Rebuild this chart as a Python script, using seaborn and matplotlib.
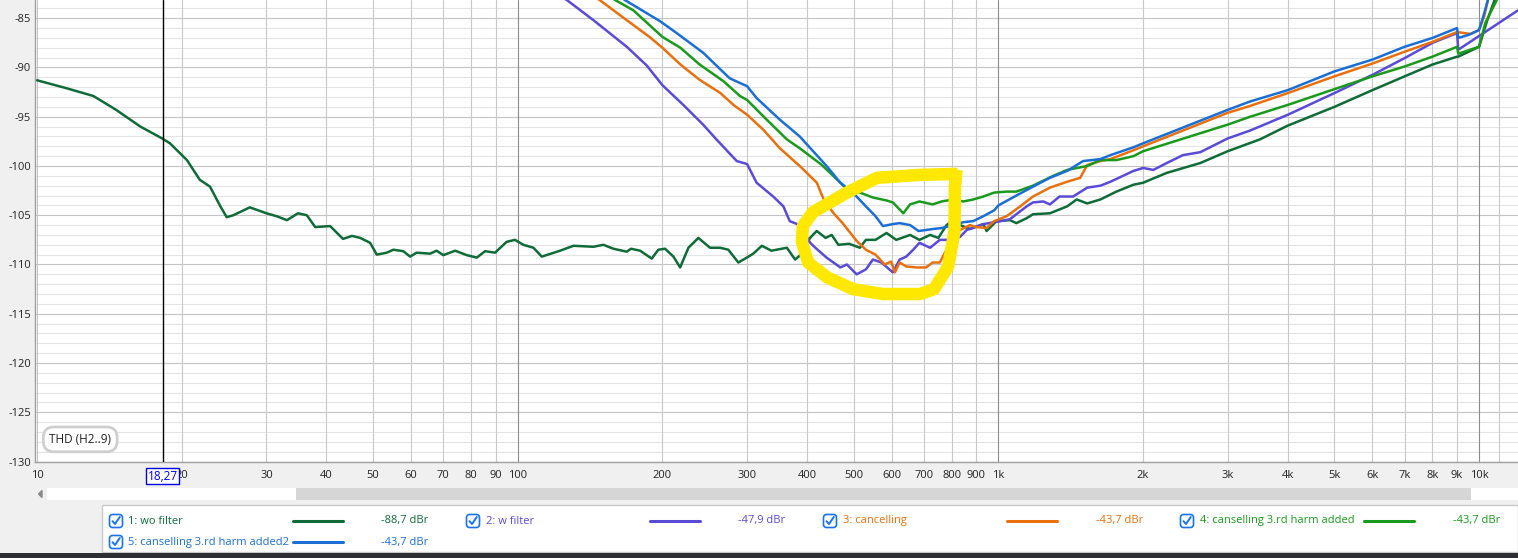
import matplotlib
matplotlib.use("Agg")
import numpy as np
import pandas as pd
import matplotlib.pyplot as plt
from matplotlib.patches import Rectangle, FancyBboxPatch
from matplotlib.ticker import NullLocator
import seaborn as sns

W, H = 1518, 558

# THD traces: (frequency Hz, level dB)
wo_filter = [
    (10, -91.3), (11.5, -92.1), (13.1, -92.9), (14.6, -94.3), (16.4, -96.0), (18.2, -97.2),
    (18.9, -97.7), (20.5, -99.4), (21.8, -101.4), (22.9, -102.1), (24.0, -104.0), (24.8, -105.2),
    (25.6, -105.0), (27.7, -104.2), (30.0, -104.8), (31.5, -105.1), (33.1, -105.5), (34.9, -104.8),
    (36.4, -105.0), (37.9, -106.2), (40.7, -106.1), (43.3, -107.4), (45.2, -107.1), (47.0, -107.3),
    (49.3, -107.8), (50.9, -109.0), (53.4, -108.8), (55.1, -108.5), (57.8, -108.65), (59.7, -109.2),
    (61.6, -108.8), (65.7, -108.9), (67.8, -108.6), (70.0, -109.05), (74.1, -108.6), (78.3, -109.05),
    (82.2, -109.3), (85.5, -108.65), (89.7, -108.8), (94.8, -107.7), (98.7, -107.5), (102.7, -108.0),
    (107.8, -108.3), (112.2, -109.2), (122.5, -108.6), (130.6, -108.1), (143.7, -108.2), (150.7, -108.0),
    (158.1, -108.4), (168.6, -108.7), (172, -108.4), (179.7, -108.6), (190.0, -109.4), (196.1, -108.5),
    (202.5, -108.4), (210.8, -109.2), (217.7, -110.3), (226.5, -108.3), (237.5, -107.3), (251.2, -108.3),
    (263.6, -108.3), (274.2, -108.5), (287.7, -109.8), (299.6, -109.3), (309, -108.9), (322, -108.1),
    (337, -108.6), (363, -108.3), (377.6, -109.5), (386, -109.1), (405.6, -107.3), (418.8, -106.6),
    (437, -107.3), (450, -107.0), (464.5, -108.0), (489, -107.9), (515, -108.3), (530, -107.5),
    (555, -107.5), (585, -106.8), (613, -107.5), (655, -107.0), (685, -107.5), (721, -107.0),
    (750, -107.3), (780, -106.0), (806, -105.5), (832, -106.0), (873, -106.4), (930, -105.9),
    (945, -106.6), (991, -105.6), (1057, -105.5), (1090, -105.8), (1145, -105.3), (1180, -104.9),
    (1280, -104.8), (1390, -104.1), (1455, -103.4), (1530, -103.8), (1630, -103.4), (1760, -102.6),
    (1910, -101.9), (2000, -101.7), (2240, -100.7), (2630, -99.7), (3000, -98.5), (3500, -97.3),
    (4000, -95.9), (5000, -94.0), (6000, -92.3), (7000, -90.9), (8000, -89.7), (9000, -88.9),
    (9050, -88.9), (10000, -87.9), (10400, -85.2), (10800, -83.0), (11000, -82.0),
]

w_filter = [
    (120, -82.5), (126.5, -83.15), (143.7, -85.2), (168.6, -87.9), (185.5, -89.8), (200, -91.8),
    (221, -93.8), (243, -95.8), (259, -97.3), (285.5, -99.5), (300, -99.8), (314, -101.7),
    (340, -103.1), (357, -104.1), (368, -105.6), (386, -106.0), (406, -107.8), (416, -108.3),
    (439, -109.3), (469, -110.3), (484, -110.0), (507, -111.0), (530, -110.5), (548, -109.5),
    (571, -109.8), (603, -110.8), (623, -109.5), (643, -109.2), (665, -108.5), (685, -107.8),
    (721, -108.3), (755, -107.5), (792, -107.5), (832, -107.2), (859, -106.5), (930, -105.9),
    (1010, -105.6), (1057, -105.4), (1110, -104.6), (1145, -104.1), (1180, -103.7), (1240, -103.6),
    (1280, -103.9), (1340, -103.1), (1390, -103.1), (1430, -103.1), (1530, -102.2), (1630, -102.0),
    (1710, -101.6), (1910, -100.5), (2000, -100.2), (2100, -100.4), (2240, -99.7), (2420, -98.9),
    (2630, -98.6), (3000, -97.2), (3340, -96.4), (4000, -94.8), (5000, -92.6), (6000, -90.75),
    (7000, -89.05), (8000, -87.5), (9000, -86.5), (9050, -88.2), (12050, -84.2),
]

cancelling = [
    (140, -82.5), (148, -83.15), (168.6, -85.2), (188, -86.9), (200, -88.0), (218, -89.7),
    (239, -91.25), (264, -92.6), (281, -93.8), (300, -94.8), (324, -96.3), (351, -98.2),
    (386, -100.0), (419, -101.7), (433, -103.4), (454, -104.8), (474, -105.8), (507, -107.6),
    (530, -108.5), (555, -109.0), (580, -110.0), (598, -109.7), (609, -110.8), (623, -109.8),
    (643, -110.2), (676, -110.3), (707, -110.3), (730, -109.8), (755, -109.8), (780, -108.5),
    (806, -107.2), (832, -106.5), (873, -106.0), (900, -106.2), (945, -106.3), (980, -105.6),
    (1040, -105.1), (1110, -104.1), (1180, -103.1), (1280, -102.2), (1390, -101.6), (1480, -101.2),
    (1530, -99.9), (1630, -99.5), (1710, -99.3), (1910, -98.4), (2000, -98.0), (3000, -94.6),
    (3340, -93.9), (4000, -92.6), (5000, -90.9), (6000, -89.6), (7000, -88.4), (8000, -87.4),
    (9000, -86.4), (9600, -86.6), (10000, -86.2), (10250, -84.8), (10450, -83.0), (10600, -82.0),
]

cancel_3rd = [
    (152, -82.5), (159.4, -83.15), (174, -84.2), (200, -86.9), (218, -88.0), (239, -89.7),
    (268, -91.4), (290, -92.9), (300, -93.3), (329.6, -95.3), (363, -97.3), (386, -98.2),
    (428, -99.85), (469, -101.7), (489, -102.6), (515, -102.7), (548, -103.2), (585, -103.5),
    (603, -103.7), (634, -104.8), (655, -103.9), (685, -103.6), (730, -103.9), (762, -103.6),
    (806, -103.4), (846, -103.6), (886, -103.4), (930, -103.1), (980, -102.7), (1040, -102.6),
    (1090, -102.6), (1180, -102.0), (1300, -101.0), (1390, -100.4), (1530, -100.0), (1630, -99.4),
    (1760, -99.4), (1910, -99.0), (2000, -98.5), (3000, -95.8), (3340, -95.0), (4000, -93.8),
    (5000, -92.2), (6000, -90.9), (7000, -89.9), (8000, -88.9), (9000, -87.9), (9050, -88.6),
    (10000, -87.9), (10300, -85.5), (10900, -83.1), (11100, -82.0),
]

cancel_3rd_2 = [
    (160, -82.5), (167, -83.15), (197.7, -85.3), (214, -86.5), (243, -88.5), (276, -91.1),
    (300, -91.9), (314, -93.1), (351, -95.3), (386, -97.0), (409, -98.35), (439, -100.0),
    (469, -101.7), (498, -102.7), (530, -104.1), (555, -105.1), (575, -106.1), (603, -105.9),
    (623, -105.8), (655, -106.0), (682, -106.6), (707, -106.5), (730, -106.4), (762, -106.3),
    (806, -106.0), (846, -105.7), (886, -105.6), (930, -105.1), (980, -104.5), (1000, -104.0),
    (1090, -103.0), (1180, -102.1), (1280, -101.2), (1390, -100.5), (1500, -99.5), (1630, -99.3),
    (1710, -98.9), (1910, -98.1), (2000, -97.7), (3000, -94.3), (3340, -93.45), (4000, -92.3),
    (5000, -90.4), (6000, -89.2), (7000, -87.9), (8000, -87.0), (9000, -86.0), (9050, -87.0),
    (9500, -86.7), (10000, -86.2), (10250, -84.5), (10450, -83.0), (10600, -82.0),
]

series_names = ["1: wo filter", "2: w filter", "3: cancelling",
                "4: canselling 3.rd harm added", "5: canselling 3.rd harm added2"]
series_levels = ["-88,7 dBr", "-47,9 dBr", "-43,7 dBr", "-43,7 dBr", "-43,7 dBr"]
series_colors = ["#0f6b37", "#5a4bd6", "#e8700e", "#1a9a1c", "#1b6fd4"]
series_data = [wo_filter, w_filter, cancelling, cancel_3rd, cancel_3rd_2]

y_ticks = list(range(-85, -131, -5))
x_ticks = [10, 20, 30, 40, 50, 60, 70, 80, 90, 100, 200, 300, 400, 500, 600, 700, 800, 900,
           1000, 2000, 3000, 4000, 5000, 6000, 7000, 8000, 9000, 10000]
x_labels = ["10", "20", "30", "40", "50", "60", "70", "80", "90", "100", "200", "300", "400",
            "500", "600", "700", "800", "900", "1k", "2k", "3k", "4k", "5k", "6k", "7k", "8k",
            "9k", "10k"]
cursor_freq = 18.27
cursor_label = "18,27"
trace_label = "THD (H2..9)"

# hand-drawn yellow marker around the notch (freq, dB)
highlight = [(823, -100.8), (687, -100.9), (559, -101.2), (484, -102.7), (411, -104.7),
             (392, -106.1), (390, -107.7), (402, -109.8), (440, -111.3), (498, -112.5),
             (575, -113.0), (687, -113.0), (735, -112.5), (786, -110.2), (810, -106.7),
             (812, -102.1), (818, -100.4)]

rows = []
for name, pts in zip(series_names, series_data):
    for f, db in pts:
        rows.append((name, f, db))
df = pd.DataFrame(rows, columns=["series", "freq", "db"])

sns.set_style("white")
plt.rcParams["font.family"] = ["Open Sans", "DejaVu Sans"]

fig = plt.figure(figsize=(W / 100, H / 100), dpi=100, facecolor="#f0f0f0")
ax = fig.add_axes([35 / W, (H - 462) / H, (W - 35) / W, 462 / H])
ax.set_facecolor("white")

ax.set_xscale("log")
ax.set_xlim(9.9, 12050)
ax.set_ylim(-130.05, -83.15)

# grid
for v in range(-130, -83):
    major = v % 5 == 0
    ax.axhline(v, color="#c4c4c4" if major else "#e4e4e4", lw=0.8, zorder=0)
for dec in [10, 100, 1000, 10000]:
    for m in range(1, 10):
        f = dec * m
        if f > 12050:
            continue
        dark = m == 1 and dec > 10
        ax.axvline(f, color="#8c8c8c" if dark else "#c8c8c8", lw=0.8, zorder=0)
ax.axvline(11000, color="#c8c8c8", lw=0.8, zorder=0)

sns.lineplot(data=df, x="freq", y="db", hue="series", hue_order=series_names,
             palette=dict(zip(series_names, series_colors)), estimator=None, sort=False,
             legend=False, lw=1.8, ax=ax, zorder=3)

hx, hy = zip(*highlight)
ax.plot(hx, hy, color="#ffe800", lw=9, solid_capstyle="butt", solid_joinstyle="round", zorder=4)

ax.axvline(cursor_freq, color="black", lw=1.0, zorder=5)

ax.set_xticks(x_ticks, x_labels)
ax.xaxis.set_minor_locator(NullLocator())
ax.set_yticks(y_ticks, [str(v) for v in y_ticks])
ax.tick_params(length=0, labelsize=8, colors="#222222")
ax.tick_params(axis="x", pad=6)
ax.tick_params(axis="y", pad=3)
ax.set_xlabel("")
ax.set_ylabel("")
for side in ["top", "right"]:
    ax.spines[side].set_visible(False)
for side in ["left", "bottom"]:
    ax.spines[side].set_color("#a0a0a0")
    ax.spines[side].set_linewidth(1.0)

ax.text(cursor_freq, -0.031, cursor_label, transform=ax.get_xaxis_transform(), ha="center",
        va="center", fontsize=8.5, color="#0000e6", clip_on=False, zorder=10,
        bbox=dict(boxstyle="square,pad=0.12", fc="white", ec="#0000e6", lw=1))

ax.text(0.0305, 0.049, trace_label, transform=ax.transAxes, ha="center", va="center",
        fontsize=8.5, color="#222222", zorder=6,
        bbox=dict(boxstyle="round,pad=0.5,rounding_size=0.9", fc="white", ec="#cfcfcf", lw=2))

# window chrome below the plot: scrollbar and legend panel, in pixel coordinates
ov = fig.add_axes([0, 0, 1, 1], zorder=5)
ov.set_xlim(0, W)
ov.set_ylim(H, 0)
ov.axis("off")

ov.add_patch(Rectangle((47, 488), W - 47, 12, fc="white", ec="none"))
ov.add_patch(Rectangle((296, 488), 1471 - 296, 12, fc="#d6d6d6", ec="none"))
ov.fill([42, 38.5, 42], [490.5, 494, 497.5], color="#8a8a8a")

ov.add_patch(Rectangle((102, 504.5), W - 102, 47.5, fc="white", ec="#c8c8c8", lw=1))
ov.add_patch(Rectangle((0, 553), W, 5, fc="#2b2f33", ec="none"))

checkbox_x = [116, 473, 830, 1187, 116]
text_x = [128, 486, 843, 1200, 128]
line_x = [293, 650, 1007, 1364, 293]
level_x = [381, 738, 1096, 1453, 381]
row_y = [521, 521, 521, 521, 542]

for i, name in enumerate(series_names):
    cx, cy, col = checkbox_x[i], row_y[i], series_colors[i]
    ov.add_patch(FancyBboxPatch((cx - 6.5, cy - 6.5), 13, 13,
                                boxstyle="round,pad=0,rounding_size=3",
                                fc="white", ec="#1a73e8", lw=1.2))
    ov.plot([cx - 3.5, cx - 1, cx + 3.8], [cy + 0.2, cy + 3, cy - 4], color="#1a73e8",
            lw=1.4, solid_capstyle="round")
    ov.text(text_x[i], cy, name, color=col, fontsize=8, va="center", ha="left")
    ov.plot([line_x[i], line_x[i] + 50], [cy, cy], color=col, lw=2.2)
    ov.text(level_x[i], cy, series_levels[i], color=col, fontsize=8, va="center", ha="left")

fig.savefig("out.png", dpi=100, facecolor=fig.get_facecolor())
